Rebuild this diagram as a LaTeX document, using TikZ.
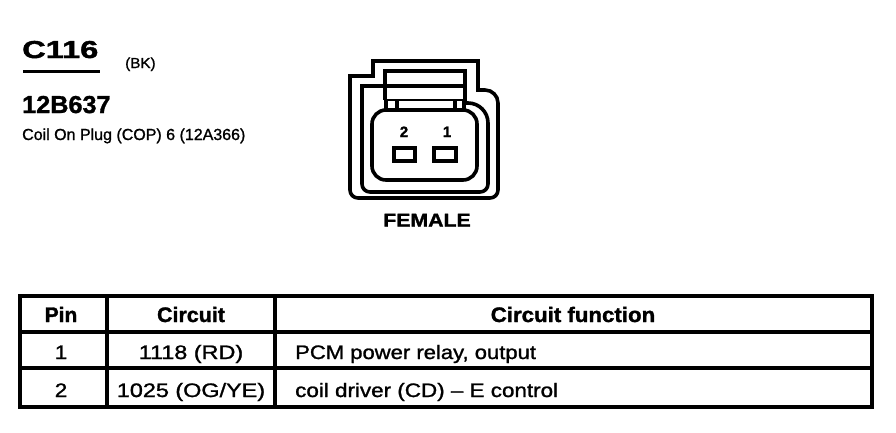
\documentclass[tikz,border=0pt]{standalone}
\usepackage{fontspec}
\setmainfont{Liberation Sans}
\newfontface\rgheavy{Liberation Sans}[FakeBold=1.2]
\newfontface\bdheavy{Liberation Sans Bold}[FakeBold=1.4]
\newcommand{\fsz}[1]{\fontsize{#1}{#1}\selectfont}
\newcommand{\wide}[2]{\scalebox{#1}[1]{#2}}
\tikzset{
  conn/.style={line width=3.6pt, line join=miter},
  thinln/.style={line width=1.4pt},
  tbl/.style={line width=3.2pt},
  lbl/.style={inner sep=0pt, anchor=base},
  lblw/.style={inner sep=0pt, anchor=base west},
  hdr/.style={lbl, font=\bdheavy\fsz{21}},
  body/.style={lbl, font=\rgheavy\fsz{19.5}},
  bodyw/.style={lblw, font=\rgheavy\fsz{19.5}},
}
\begin{document}
\begin{tikzpicture}[x=1pt,y=-1pt]
\useasboundingbox (0,0) rectangle (896,432);
% ---- title block
\node[lblw] (title) at (22,58) {\bdheavy\fsz{24.5}\wide{1.33}{C116}};
\draw[line width=3pt] (23,71.5) -- (100,71.5);
\node[lblw] (colour) at (125,68) {\rgheavy\fsz{14.5}\wide{1.05}{(BK)}};
\node[lblw] (part) at (22,113) {\bdheavy\fsz{24.5}\wide{1.03}{12B637}};
\node[lblw] (desc) at (22,140) {\rgheavy\fsz{16}Coil On Plug (COP) 6 (12A366)};
% ---- connector face
\draw[conn] (350,76) -- (373,76) -- (373,61) -- (478,61) -- (478,90) -- (485,90)
  arc[start angle=270, end angle=360, radius=13] -- (498,190)
  arc[start angle=0, end angle=90, radius=8] -- (358,198)
  arc[start angle=90, end angle=180, radius=8] -- cycle;
\draw[conn] (465,86) -- (362,86) -- (362,184)
  arc[start angle=180, end angle=90, radius=8] -- (480,192)
  arc[start angle=90, end angle=0, radius=8] -- (488,123)
  arc[start angle=0, end angle=-90, radius=20] -- (465,103);
\draw[conn] (385,100) -- (385,71) -- (465,71) -- (465,103);
\draw[thinln] (385,100) -- (465,100);
\draw[conn] (386,100) -- (386,110) (397,100) -- (397,110);
\draw[conn] (455,100) -- (455,110) (464,100) -- (464,110);
\draw[conn, rounded corners=14pt] (372,110) rectangle (477,180);
\draw[conn] (394,148) rectangle (415,161);
\draw[conn] (434,148) rectangle (456,161);
\node[lbl] (pin2) at (404,137) {\bdheavy\fsz{15}2};
\node[lbl] (pin1) at (447,137) {\bdheavy\fsz{15}1};
\node[lbl] (female) at (427,226.5) {\bdheavy\fsz{18.5}\wide{1.15}{FEMALE}};
% ---- table
\draw[tbl] (20,296) rectangle (872,407);
\draw[tbl] (20,332) -- (872,332) (20,368) -- (872,368);
\draw[tbl] (107,296) -- (107,407) (275,296) -- (275,407);
\node[hdr] (hpin) at (61,322) {Pin};
\node[hdr] (hcirc) at (191,322) {\wide{1.02}{Circuit}};
\node[hdr] (hfunc) at (573,322) {\wide{1.06}{Circuit function}};
\node[body] (r1pin) at (61,359) {\wide{1.15}{1}};
\node[body] (r1circ) at (191,359) {\wide{1.2}{1118 (RD)}};
\node[bodyw] (r1func) at (295,359) {\wide{1.13}{PCM power relay, output}};
\node[body] (r2pin) at (61,397) {\wide{1.15}{2}};
\node[body] (r2circ) at (191,397) {\wide{1.2}{1025 (OG/YE)}};
\node[bodyw] (r2func) at (295,397) {\wide{1.15}{coil driver (CD) – E control}};
\end{tikzpicture}
\end{document}
